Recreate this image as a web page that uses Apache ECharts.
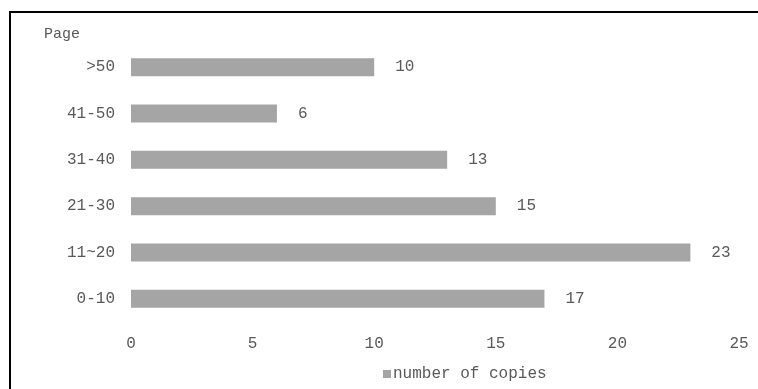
<!DOCTYPE html>
<html>
<head>
<meta charset="utf-8">
<script src="https://cdn.jsdelivr.net/npm/echarts@6/dist/echarts.min.js"></script>
<style>html,body{margin:0;padding:0;background:#fff}#c{width:758px;height:389px}</style>
</head>
<body>
<div id="c"></div>
<script>
const categories = ['0-10', '11~20', '21-30', '31-40', '41-50', '>50'];
const copies = [17, 23, 15, 13, 6, 10];
const xTicks = { min: 0, max: 25, interval: 5 };
const seriesName = 'number of copies';
const axisTitle = 'Page';

const FONT = '"Liberation Mono", "DejaVu Sans Mono", monospace';
const TXT = '#595959';
const chart = echarts.init(document.getElementById('c'));
chart.setOption({
  animation: false,
  backgroundColor: '#fff',
  textStyle: { fontFamily: FONT },
  grid: { left: 131, right: 19, top: 44, bottom: 67 },
  graphic: [
    { type: 'rect', shape: { x: 10, y: 12, width: 760, height: 390 }, style: { fill: 'none', stroke: '#000', lineWidth: 2 }, silent: true },
    { type: 'text', left: 44, top: 27, style: { text: axisTitle, fontFamily: FONT, fontSize: 15, fill: TXT } }
  ],
  legend: {
    data: [seriesName], left: 378, top: 361, itemWidth: 8, itemHeight: 8, itemGap: 2,
    icon: 'rect',
    textStyle: { fontFamily: FONT, fontSize: 16, color: TXT, padding: [0, 0, 0, -3] }
  },
  xAxis: {
    type: 'value', min: xTicks.min, max: xTicks.max, interval: xTicks.interval,
    axisLine: { show: false }, axisTick: { show: false }, splitLine: { show: false },
    axisLabel: { color: TXT, fontFamily: FONT, fontSize: 16, margin: 14 }
  },
  yAxis: {
    type: 'category', data: categories,
    axisLine: { show: false }, axisTick: { show: false },
    axisLabel: { color: TXT, fontFamily: FONT, fontSize: 16, margin: 16 }
  },
  series: [{
    name: seriesName, type: 'bar', data: copies, barWidth: 18,
    itemStyle: { color: '#a5a5a5' },
    label: { show: true, position: 'right', distance: 21, color: TXT, fontFamily: FONT, fontSize: 16 }
  }]
});
</script>
</body>
</html>
